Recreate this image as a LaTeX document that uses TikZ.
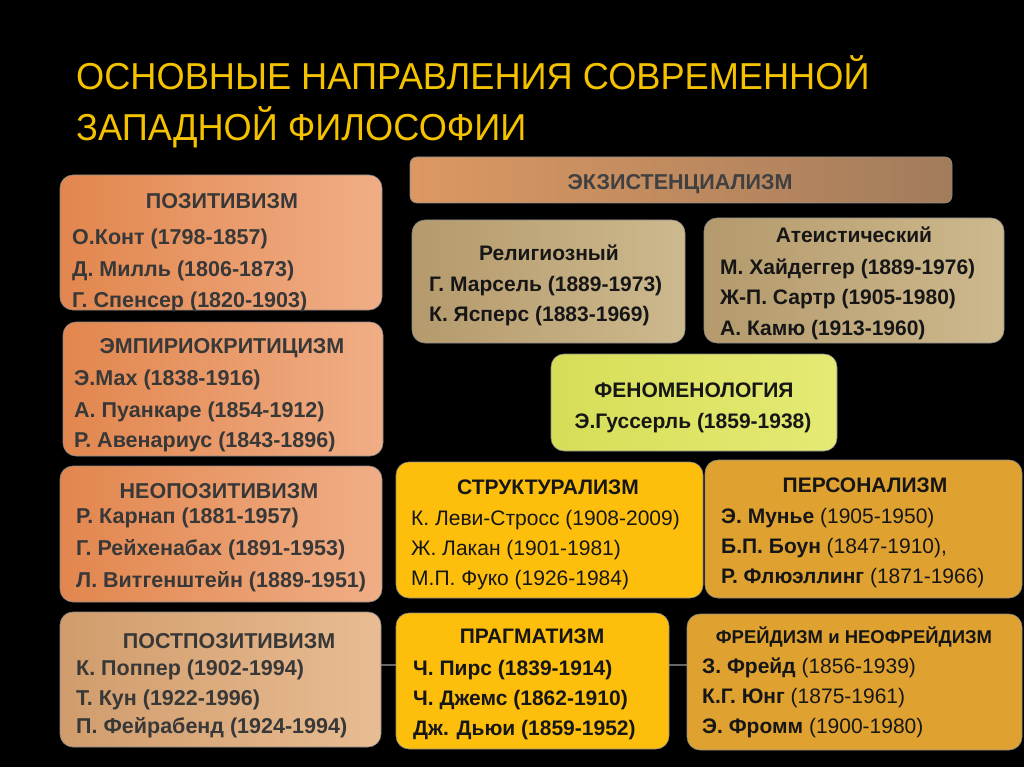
\documentclass[tikz,border=0pt]{standalone}
\usepackage{fontspec}
\setmainfont{Liberation Sans}
\newfontfamily\titlefont[FakeStretch=0.965]{Liberation Sans}
\definecolor{ttl}{HTML}{F5C200}
\definecolor{lcol}{HTML}{383838}
\definecolor{rcol}{HTML}{161616}
\definecolor{orA}{HTML}{E2864E}
\definecolor{orB}{HTML}{F0AE86}
\definecolor{tanA}{HTML}{D09C6C}
\definecolor{tanB}{HTML}{E8BC92}
\definecolor{exA}{HTML}{DC9862}
\definecolor{exB}{HTML}{A27C5C}
\definecolor{khA}{HTML}{B49A6C}
\definecolor{khB}{HTML}{CDB98E}
\definecolor{phA}{HTML}{D6DE58}
\definecolor{phB}{HTML}{E4EA74}
\definecolor{gold}{HTML}{FDBF0C}
\definecolor{ochre}{HTML}{DFA12F}
\begin{document}
\begin{tikzpicture}[x=1pt,y=-1pt,
  box/.style={rounded corners=13pt, inner sep=0pt, outer sep=0pt, draw=black!45, line width=0.6pt},
  ttlsty/.style={font=\titlefont\fontsize{37.5}{40}\selectfont, text=ttl, inner sep=0pt, anchor=base west},
  lt/.style={font=\fontsize{21.5}{25}\selectfont\bfseries, text=lcol, inner sep=0pt, anchor=base west},
  lh/.style={lt, anchor=base},
  rt/.style={font=\fontsize{21}{25}\selectfont, text=rcol, inner sep=0pt, anchor=base west},
  rtb/.style={rt, font=\fontsize{21}{25}\selectfont\bfseries},
  rh/.style={rtb, anchor=base},
  glow/.style={draw=black!60!white, line width=1.6pt}
]
\fill[black] (0,0) rectangle (1024,767);
\useasboundingbox (0,0) rectangle (1024,767);

% title
\node[ttlsty] (t1) at (76,90) {ОСНОВНЫЕ НАПРАВЛЕНИЯ СОВРЕМЕННОЙ};
\node[ttlsty] (t2) at (76,141) {ЗАПАДНОЙ ФИЛОСОФИИ};

% faint background line
\coordinate (g1) at (381,665);
\coordinate (g2) at (687,665);
\draw[glow] (g1) -- (g2);

% left column
\node[box, minimum width=322pt, minimum height=135pt, left color=orA, right color=orB] (pos) at (221,242.5) {};
\node[lh] (posh) at (222,209) {ПОЗИТИВИЗМ};
\node[lt] (pos1) at (72,244) {О.Конт (1798-1857)};
\node[lt] (pos2) at (72,276) {Д. Милль (1806-1873)};
\node[lt] (pos3) at (72,307) {Г. Спенсер (1820-1903)};

\node[box, minimum width=320pt, minimum height=134pt, left color=orA, right color=orB] (emp) at (223,389) {};
\node[lh] (emph) at (222,353) {ЭМПИРИОКРИТИЦИЗМ};
\node[lt] (emp1) at (74,385) {Э.Мах (1838-1916)};
\node[lt] (emp2) at (74,417) {А. Пуанкаре (1854-1912)};
\node[lt] (emp3) at (74,447) {Р. Авенариус (1843-1896)};

\node[box, minimum width=322pt, minimum height=136pt, left color=orA, right color=orB] (neo) at (221,534) {};
\node[lh] (neoh) at (219,498) {НЕОПОЗИТИВИЗМ};
\node[lt] (neo1) at (76,523) {Р. Карнап (1881-1957)};
\node[lt] (neo2) at (76,555) {Г. Рейхенабах (1891-1953)};
\node[lt] (neo3) at (76,587) {Л. Витгенштейн (1889-1951)};

\node[box, minimum width=321pt, minimum height=135pt, left color=tanA, right color=tanB] (post) at (220.5,679.5) {};
\node[lh] (posth) at (229,648) {ПОСТПОЗИТИВИЗМ};
\node[lt] (post1) at (76,675) {К. Поппер (1902-1994)};
\node[lt] (post2) at (76,705) {Т. Кун (1922-1996)};
\node[lt] (post3) at (76,733) {П. Фейрабенд (1924-1994)};

% existentialism
\node[box, rounded corners=7pt, minimum width=542pt, minimum height=46pt, left color=exA, right color=exB] (exi) at (681,180) {};
\node[lh, text=black!75] (exih) at (680,190) {ЭКЗИСТЕНЦИАЛИЗМ};

\node[box, minimum width=273pt, minimum height=123pt, left color=khA, right color=khB] (rel) at (548.5,281.5) {};
\node[rh] (relh) at (549,260) {Религиозный};
\node[rtb] (rel1) at (429,291) {Г. Марсель (1889-1973)};
\node[rtb] (rel2) at (429,321) {К. Ясперс (1883-1969)};

\node[box, minimum width=300pt, minimum height=125pt, left color=khA, right color=khB] (ate) at (854,280.5) {};
\node[rh] (ateh) at (854,243) {Атеистический};
\node[rtb] (ate1) at (720,274) {М. Хайдеггер (1889-1976)};
\node[rtb] (ate2) at (720,304) {Ж-П. Сартр (1905-1980)};
\node[rtb] (ate3) at (720,335) {А. Камю (1913-1960)};

% phenomenology
\node[box, minimum width=286pt, minimum height=97pt, left color=phA, right color=phB] (phen) at (694,402.5) {};
\node[rh] (phenh) at (694,397) {ФЕНОМЕНОЛОГИЯ};
\node[rh] (phen1) at (693,428) {Э.Гуссерль (1859-1938)};

% lower right
\node[box, minimum width=307pt, minimum height=136pt, fill=gold] (str) at (549.5,530) {};
\node[rh] (strh) at (548,494) {СТРУКТУРАЛИЗМ};
\node[rt] (str1) at (411,525) {К. Леви-Стросс (1908-2009)};
\node[rt] (str2) at (411,555) {Ж. Лакан (1901-1981)};
\node[rt] (str3) at (411,585) {М.П. Фуко (1926-1984)};

\node[box, minimum width=317pt, minimum height=138pt, fill=ochre] (pers) at (863.5,529) {};
\node[rh] (persh) at (865,492) {ПЕРСОНАЛИЗМ};
\node[rt] (pers1) at (721,523) {{\bfseries Э. Мунье} (1905-1950)};
\node[rt] (pers2) at (721,553) {{\bfseries Б.П. Боун} (1847-1910),};
\node[rt] (pers3) at (721,583) {{\bfseries Р. Флюэллинг} (1871-1966)};

\node[box, minimum width=273pt, minimum height=136pt, fill=gold] (prag) at (532.5,681) {};
\node[rh] (pragh) at (532,643) {ПРАГМАТИЗМ};
\node[rtb] (prag1) at (413,675) {Ч. Пирс (1839-1914)};
\node[rtb] (prag2) at (413,705) {Ч. Джемс (1862-1910)};
\node[rtb] (prag3) at (413,735) {Дж. Дьюи (1859-1952)};

\node[box, minimum width=335pt, minimum height=136pt, fill=ochre] (freud) at (854.5,682) {};
\node[rh, font=\fontsize{18.5}{22}\selectfont\bfseries] (freudh) at (854,643) {ФРЕЙДИЗМ и НЕОФРЕЙДИЗМ};
\node[rt] (freud1) at (702,673) {{\bfseries З. Фрейд} (1856-1939)};
\node[rt] (freud2) at (702,703) {{\bfseries К.Г. Юнг} (1875-1961)};
\node[rt] (freud3) at (702,733) {{\bfseries Э. Фромм} (1900-1980)};
\end{tikzpicture}
\end{document}
